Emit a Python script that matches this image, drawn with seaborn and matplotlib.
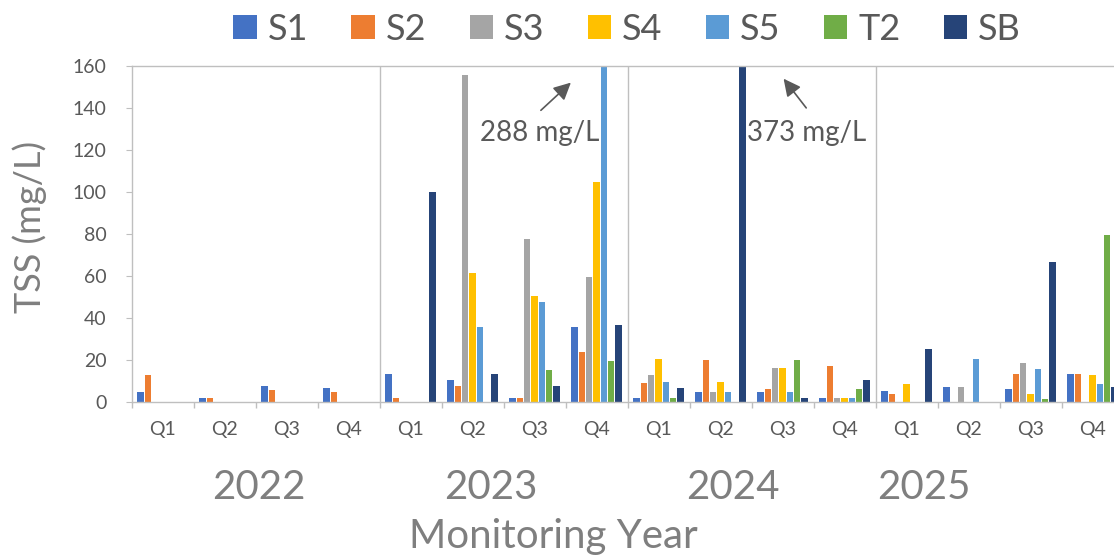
import numpy as np
import pandas as pd
import seaborn as sns
import matplotlib.pyplot as plt

# Quarterly TSS per site (None = no sample)
years = ["2022", "2023", "2024", "2025"]
quarters = ["Q1", "Q2", "Q3", "Q4"]
sites = ["S1", "S2", "S3", "S4", "S5", "T2", "SB"]

s1 = [5, 2, 7.5, 6.5, 13.5, 10.5, 1.7, 35.6, 2, 4.6, 4.6, 2, 5.4, 7.3, 6, 13.2]
s2 = [13, 2, 5.6, 4.6, 1.7, 7.5, 1.7, 24, 9.2, 20, 6, 17, 3.7, None, 13.5, 13.5]
s3 = [None, None, None, None, None, 155.6, 77.5, 59.5, 13, 4.6, 16, 2, None, 7, 18.7, None]
s4 = [None, None, None, None, None, 61.6, 50.6, 104.8, 20.5, 9.5, 16.2, 2, 8.7, None, 3.7, 12.7]
s5 = [None, None, None, None, None, 35.6, 47.5, 288, 9.5, 4.6, 4.6, 2, None, 20.6, 15.6, 8.4]
t2 = [None, None, None, None, None, None, 15.1, 19.7, 2, None, 20, 6, None, None, 1.6, 79.5]
sb = [None, None, None, None, 100, 13.5, 7.8, 36.7, 6.7, 373, 2, 10.6, 25.4, None, 66.8, 7]

colors = ["#4472C4", "#ED7D31", "#A5A5A5", "#FFC000", "#5B9BD5", "#70AD47", "#264478"]

periods = [f"{y}-{q}" for y in years for q in quarters]
df = pd.DataFrame({"period": periods, "S1": s1, "S2": s2, "S3": s3, "S4": s4,
                   "S5": s5, "T2": t2, "SB": sb})
long = df.melt(id_vars="period", var_name="site", value_name="tss").dropna()

W, H = 1114, 556
fig = plt.figure(figsize=(W / 100, H / 100), dpi=100)
# plot area runs past the right edge, as in the cropped original
ax = fig.add_axes([131.5 / W, (H - 402) / H, 992 / W, 336 / H])

sns.barplot(data=long, x="period", y="tss", hue="site", order=periods,
            hue_order=sites, palette=colors, saturation=1, width=0.825, gap=0.15,
            linewidth=0, errorbar=None, ax=ax)
ax.get_legend().remove()

ax.set_xlim(-0.5, len(periods) - 0.5)
ax.set_ylim(0, 160)
ax.set_yticks(np.arange(0, 161, 20))
ax.set_xlabel("")
ax.set_ylabel("")

font = ["Lato", "DejaVu Sans"]
tick_col = "#595959"
big_col = "#7F7F7F"

ax.set_xticks(range(len(periods)))
ax.set_xticklabels([p.split("-")[1] for p in periods], family=font, fontsize=14, color=tick_col)
ax.set_xticks(np.arange(-0.5, len(periods), 1), minor=True)
ax.tick_params(axis="x", which="major", length=0, pad=14)
ax.tick_params(axis="x", which="minor", length=4, color="#BFBFBF", width=1)
ax.tick_params(axis="y", length=4, color="#BFBFBF", pad=14, labelcolor=tick_col)
for lab in ax.get_yticklabels():
    lab.set_family(font)
    lab.set_fontsize(14)

for side in ["left", "bottom", "top"]:
    ax.spines[side].set_color("#BFBFBF")
    ax.spines[side].set_linewidth(1)
ax.spines["right"].set_visible(False)
for xb in [3.5, 7.5, 11.5]:
    ax.axvline(xb, color="#BFBFBF", lw=1, zorder=0)

# year labels (positions as in the original layout)
year_x = [1.56, 5.30, 9.20, 12.28]
for x, y in zip(year_x, years):
    ax.text(x, -0.255, y, transform=ax.get_xaxis_transform(), ha="center", va="center",
            family=font, fontsize=29, color=big_col)

fig.text(553 / W, 1 - 555 / H, "Monitoring Year", ha="center", va="bottom",
         family=font, fontsize=29, color=big_col)
fig.text(30 / W, 1 - 227 / H, "TSS (mg/L)", rotation=90, ha="center", va="center",
         family=font, fontsize=26, color=big_col)

# off-scale callouts
arrow = dict(arrowstyle="-|>", color="#595959", lw=1.2, mutation_scale=26)
ax.annotate("", xy=(6.62, 153), xytext=(6.07, 138), arrowprops=arrow)
ax.text(6.09, 128, "288 mg/L", ha="center", va="center", family=font, fontsize=20, color=tick_col)
ax.annotate("", xy=(9.99, 155), xytext=(10.41, 139), arrowprops=arrow)
ax.text(10.39, 128, "373 mg/L", ha="center", va="center", family=font, fontsize=20, color=tick_col)

handles, labels = ax.get_legend_handles_labels()
leg = fig.legend(handles, labels, loc="center", bbox_to_anchor=(627 / W, 1 - 29 / H),
                 ncol=7, frameon=False, handlelength=0.65, handleheight=0.65,
                 handletextpad=0.3, columnspacing=1.2,
                 prop={"family": font, "size": 26})
for t in leg.get_texts():
    t.set_color(tick_col)

fig.savefig("out.png", dpi=100)
